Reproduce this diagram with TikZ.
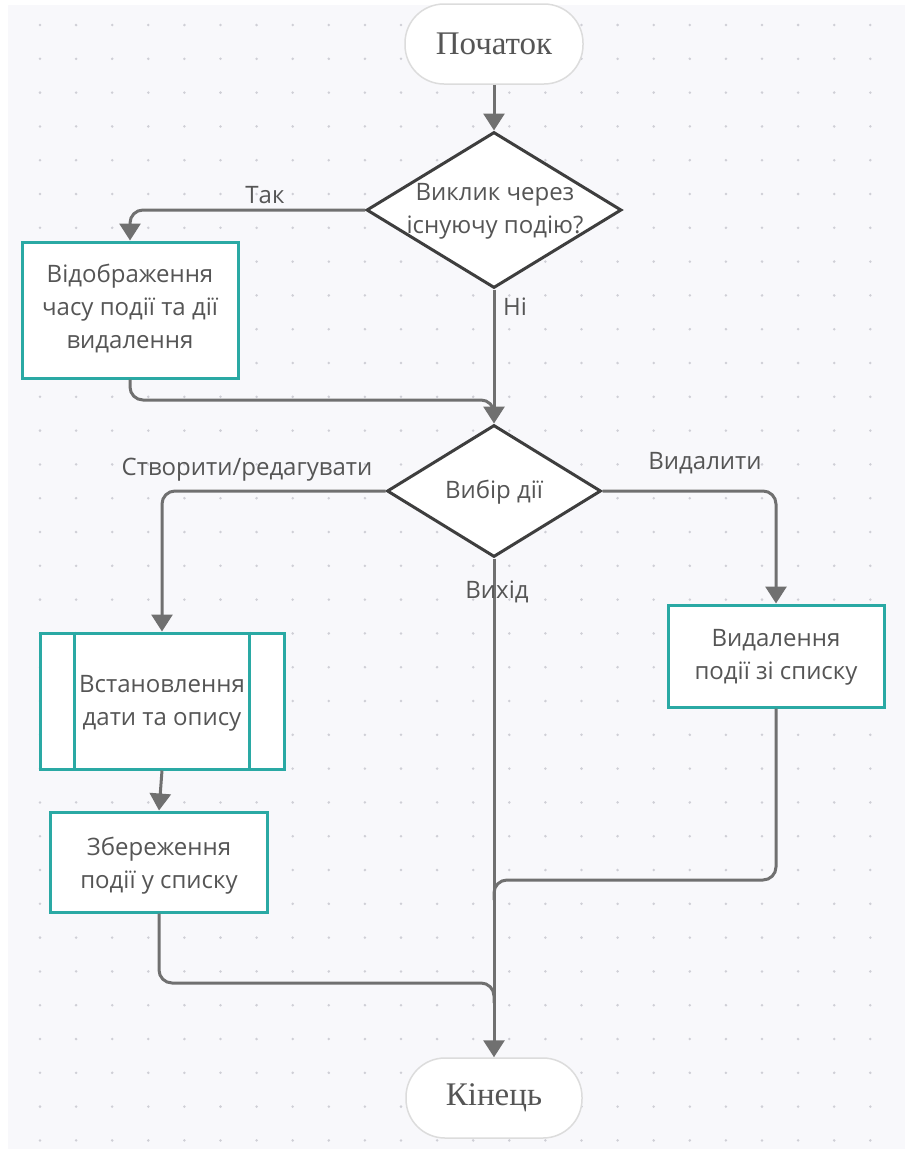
\documentclass[tikz,border=0pt]{standalone}
\usepackage{fontspec}
\setmainfont{Open Sans}
\newfontfamily\termfont{Liberation Serif}
\usetikzlibrary{arrows.meta,shapes.geometric}

\definecolor{paper}{HTML}{F8F8FB}
\definecolor{griddot}{HTML}{CFCFD6}
\definecolor{wire}{HTML}{707070}
\definecolor{edge}{HTML}{3E3E3E}
\definecolor{teal}{HTML}{2AA9A4}
\definecolor{ink}{HTML}{555555}
\definecolor{pale}{HTML}{DCDCDC}

\tikzset{
  wire/.style={draw=wire, line width=3pt},
  flow/.style={wire, -{Triangle[width=21pt,length=17pt]}},
  roundturn/.style={rounded corners=13pt},
  terminal/.style={draw=pale, line width=1.5pt, fill=white, rounded corners=39pt,
    minimum width=#1, minimum height=80pt, inner sep=0pt, text=ink,
    font=\termfont\fontsize{33}{36}\selectfont},
  decision/.style={diamond, draw=edge, line width=3pt, fill=white, inner sep=0pt},
  process/.style={draw=teal, line width=3pt, fill=white, inner sep=0pt},
  boxtext/.style={align=center, text=ink, font=\fontsize{24}{33}\selectfont},
  lbl/.style={text=ink, font=\fontsize{24}{28}\selectfont, inner sep=0pt}
}

\begin{document}
\begin{tikzpicture}[x=1pt,y=-1pt]
  % canvas with dotted grid
  \useasboundingbox (0,0) rectangle (905,1149);
  \fill[white] (0,0) rectangle (905,1149);
  \fill[paper] (8,5) rectangle (905,1149);
  \foreach \i in {0,...,24} {
    \foreach \j in {0,...,33} {
      \fill[griddot] ({40+36.1*\i},{25+33.8*\j}) circle (1.4pt);
    }
  }

  % shapes
  \node[terminal=178pt] (start) at (494,44) {Початок};
  \node[decision, minimum width=255pt, minimum height=156pt] (d1) at (494,210) {};
  \node[boxtext] (d1t) at (495,211) {Виклик через\\існуючу подію?};
  \node[process, minimum width=216pt, minimum height=136pt] (b1) at (130,310) {};
  \node[boxtext] (b1t) at (130,309) {Відображення\\часу події та дії\\видалення};

  \node[decision, minimum width=214pt, minimum height=132pt] (d2) at (494,491) {};
  \node[boxtext] (d2t) at (494,492) {Вибір дії};

  \node[process, minimum width=244pt, minimum height=136pt] (b2) at (162,701) {};
  \draw[teal, line width=3pt] (b2.north west) ++(36,0) -- ++(0,136);
  \draw[teal, line width=3pt] (b2.north east) ++(-36,0) -- ++(0,136);
  \node[boxtext] (b2t) at (162,703) {Встановлення\\дати та опису};

  \node[process, minimum width=217pt, minimum height=100pt] (b3) at (159,862) {};
  \node[boxtext] (b3t) at (159,866) {Збереження\\події у списку};

  \node[process, minimum width=216pt, minimum height=102pt] (b4) at (776,656) {};
  \node[boxtext] (b4t) at (776,657) {Видалення\\події зі списку};

  \node[terminal=176pt] (end) at (494,1098) {Кінець};

  % junction points on the central line
  \coordinate (j1) at (494,400);
  \coordinate (j2) at (494,880);
  \coordinate (j3) at (494,983);

  % connectors
  \draw[flow] (start) -- (d1.north);
  \draw[flow, roundturn] (d1.west) -| (b1.north);
  \draw[flow] (d1.south) -- (d2.north);
  \draw[wire, roundturn] (b1.south) |- (j1) -- ++(0,15);
  \draw[flow, roundturn] (d2.west) -| (b2.north);
  \draw[flow, roundturn] (d2.east) -| (b4.north);
  \draw[flow] (d2.south) -- (end.north);
  \draw[flow] (b2.south) -- (b3.north);
  \draw[wire, roundturn] (b3.south) |- (j3) -- ++(0,20);
  \draw[wire, roundturn] (b4.south) |- (j2) -- ++(0,20);

  % branch labels
  \node[lbl] (yes) at (265,195) {Так};
  \node[lbl] (no) at (515,307) {Ні};
  \node[lbl] (edit) at (247,470) {Створити/редагувати};
  \node[lbl] (del) at (705,463) {Видалити};
  \node[lbl] (quit) at (497,592) {Вихід};
\end{tikzpicture}
\end{document}
